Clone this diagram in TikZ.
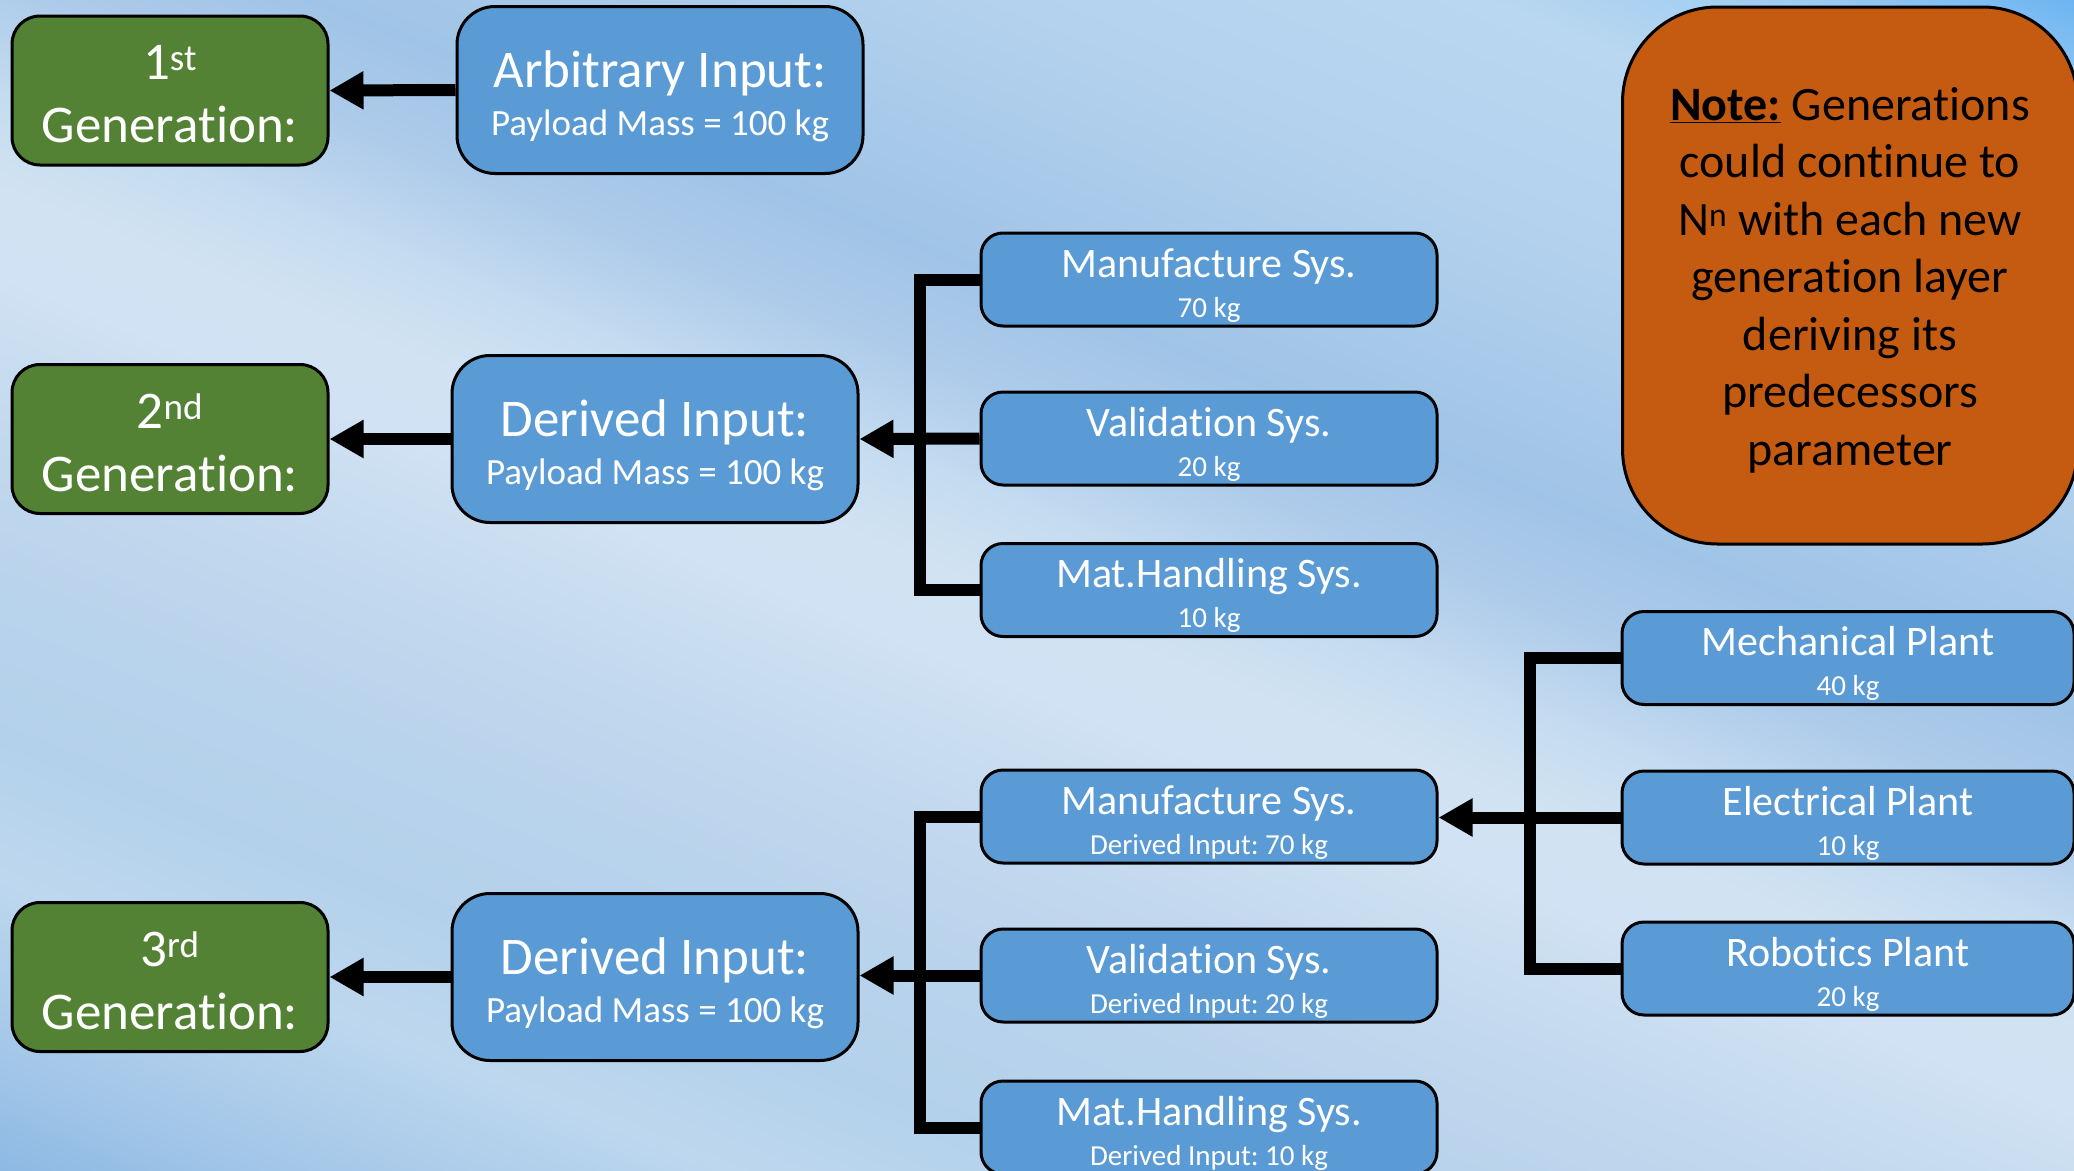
\documentclass[tikz,border=0pt]{standalone}
\usepackage{fontspec}
\setmainfont{Carlito}[Ligatures=NoCommon]
\frenchspacing
\usetikzlibrary{arrows.meta,calc}
\definecolor{gengreen}{HTML}{548235}
\definecolor{boxblue}{HTML}{5B9BD5}
\definecolor{noteorange}{HTML}{C55A11}
\definecolor{bgA}{HTML}{8DB9E3}
\definecolor{bgB}{HTML}{A2C6E8}
\definecolor{bgC}{HTML}{BDD7EE}
\definecolor{bgD}{HTML}{B4D1EB}
\definecolor{bgE}{HTML}{B9D3EC}
\definecolor{bgF}{HTML}{C2D8EE}
\definecolor{bgG}{HTML}{D0E2F3}
\definecolor{bgH}{HTML}{D1E3F2}
\definecolor{bgI}{HTML}{C4DBF0}
\definecolor{bgJ}{HTML}{AECBEA}
\definecolor{bgK}{HTML}{A0C4E7}
\definecolor{bgL}{HTML}{B4D2EE}
\definecolor{bgM}{HTML}{B9D7F0}
\definecolor{bgN}{HTML}{9CCBF2}
\definecolor{bgO}{HTML}{6AB4F2}
\newcommand\gstrut{\rule{0pt}{42pt}}
\newcommand\istrut{\rule{0pt}{49pt}}
\newcommand\sstrut{\rule{0pt}{40pt}}
\newcommand\nstrut{\rule{0pt}{42pt}}
\newcommand\ttl[1]{{\fontsize{53}{48}\selectfont\istrut #1}}
\newcommand\stl[1]{{\fontsize{42}{40}\selectfont\sstrut #1}}
\begin{document}
\begin{tikzpicture}[x=1pt,y=-1pt,
  genbox/.style={draw=black, line width=3pt, fill=gengreen, rounded corners=28pt,
    minimum width=316pt, minimum height=149pt, text=white, align=center,
    font=\fontsize{53}{63}\selectfont, inner sep=0pt},
  inbox/.style={draw=black, line width=3pt, fill=boxblue, rounded corners=38pt,
    minimum width=406pt, minimum height=167pt, text=white, align=center,
    font=\fontsize{37}{48}\selectfont, inner sep=0pt},
  subbox/.style={draw=black, line width=3pt, fill=boxblue, rounded corners=22pt,
    minimum width=456pt, minimum height=93pt, text=white, align=center,
    font=\fontsize{29}{40}\selectfont, inner sep=0pt},
  notebox/.style={draw=black, line width=3pt, fill=noteorange, rounded corners=95pt,
    minimum width=455pt, minimum height=537pt, text=black, align=center,
    font=\fontsize{48}{57.5}\selectfont, inner sep=0pt},
  conn/.style={draw=black, line width=12pt, line join=miter},
  arr/.style={conn, -{Triangle[length=34pt,width=36pt]}},
  band/.style={draw=none},
]
\useasboundingbox (0,0) rectangle (2074,1170);
% background gradient (bands along the diagonal)
\begin{scope}
\clip (0,0) rectangle (2074,1170);
\begin{scope}[transform canvas={rotate around={68:(0,1170)}}]
\fill[bgA] (-300,-6000) rectangle (1,6000);
\shade[band, left color=bgA, right color=bgB] (0,-6000) rectangle (101,6000);
\shade[band, left color=bgB, right color=bgC] (100,-6000) rectangle (271,6000);
\shade[band, left color=bgC, right color=bgD] (270,-6000) rectangle (401,6000);
\shade[band, left color=bgD, right color=bgE] (400,-6000) rectangle (545,6000);
\shade[band, left color=bgE, right color=bgF] (544,-6000) rectangle (675,6000);
\shade[band, left color=bgF, right color=bgG] (674,-6000) rectangle (831,6000);
\shade[band, left color=bgG, right color=bgH] (830,-6000) rectangle (909,6000);
\shade[band, left color=bgH, right color=bgI] (908,-6000) rectangle (1001,6000);
\shade[band, left color=bgI, right color=bgJ] (1000,-6000) rectangle (1097,6000);
\shade[band, left color=bgJ, right color=bgK] (1096,-6000) rectangle (1201,6000);
\shade[band, left color=bgK, right color=bgL] (1200,-6000) rectangle (1461,6000);
\shade[band, left color=bgL, right color=bgM] (1460,-6000) rectangle (1641,6000);
\shade[band, left color=bgM, right color=bgN] (1640,-6000) rectangle (1761,6000);
\shade[band, left color=bgN, right color=bgO] (1760,-6000) rectangle (1864,6000);
\fill[bgO] (1863,-6000) rectangle (2300,6000);
\end{scope}
\end{scope}

% 1st generation
\node[genbox] (g1) at (170,90.5) {\gstrut 1\textsuperscript{st}\\Generation:};
\node[inbox] (a1) at (660,90) {\ttl{Arbitrary Input:}\\Payload Mass = 100 kg};
\draw[arr] (a1.west) -- (g1.east);

% 2nd generation
\node[genbox] (g2) at (170,439) {\gstrut 2\textsuperscript{nd}\\Generation:};
\node[inbox] (d2) at (655,439) {\ttl{Derived Input:}\\Payload Mass = 100 kg};
\node[subbox] (m2) at (1209,279.5) {\stl{Manufacture Sys.}\\70 kg};
\node[subbox] (v2) at (1209,438.5) {\stl{Validation Sys.}\\20 kg};
\node[subbox] (h2) at (1209,590) {\stl{Mat.Handling Sys.}\\10 kg};
\coordinate (t2) at (920,439);
\draw[conn] (m2.west) -| (t2) |- (h2.west);
\draw[arr] (v2.west) -- (d2.east);
\draw[arr] (d2.west) -- (g2.east);

% 3rd generation
\node[genbox] (g3) at (170,977) {\gstrut 3\textsuperscript{rd}\\Generation:};
\node[inbox] (d3) at (655,977) {\ttl{Derived Input:}\\Payload Mass = 100 kg};
\node[subbox] (m3) at (1209,816.5) {\stl{Manufacture Sys.}\\Derived Input: 70 kg};
\node[subbox] (v3) at (1209,975.5) {\stl{Validation Sys.}\\Derived Input: 20 kg};
\node[subbox] (h3) at (1209,1127.5) {\stl{Mat.Handling Sys.}\\Derived Input: 10 kg};
\coordinate (t3) at (920,976);
\draw[conn] (m3.west) -| (t3) |- (h3.west);
\draw[arr] (v3.west) -- (v3.west -| d3.east);
\draw[arr] (d3.west) -- (g3.east);

% plants
\node[subbox, minimum width=452pt] (p1) at (1848,658) {\stl{Mechanical Plant}\\40 kg};
\node[subbox, minimum width=452pt] (p2) at (1848,817.5) {\stl{Electrical Plant}\\10 kg};
\node[subbox, minimum width=452pt] (p3) at (1848,968.5) {\stl{Robotics Plant}\\20 kg};
\coordinate (t4) at (1530,817);
\draw[conn] (p1.west) -| (t4) |- (p3.west);
\draw[arr] (p2.west) -- (p2.west -| m3.east);

% note
\node[notebox] (note) at (1850,275.5) {\nstrut\underline{\textbf{Note:}} Generations\\could continue to\\N\textsuperscript{n} with each new\\generation layer\\deriving its\\predecessors\\parameter};
\end{tikzpicture}
\end{document}
